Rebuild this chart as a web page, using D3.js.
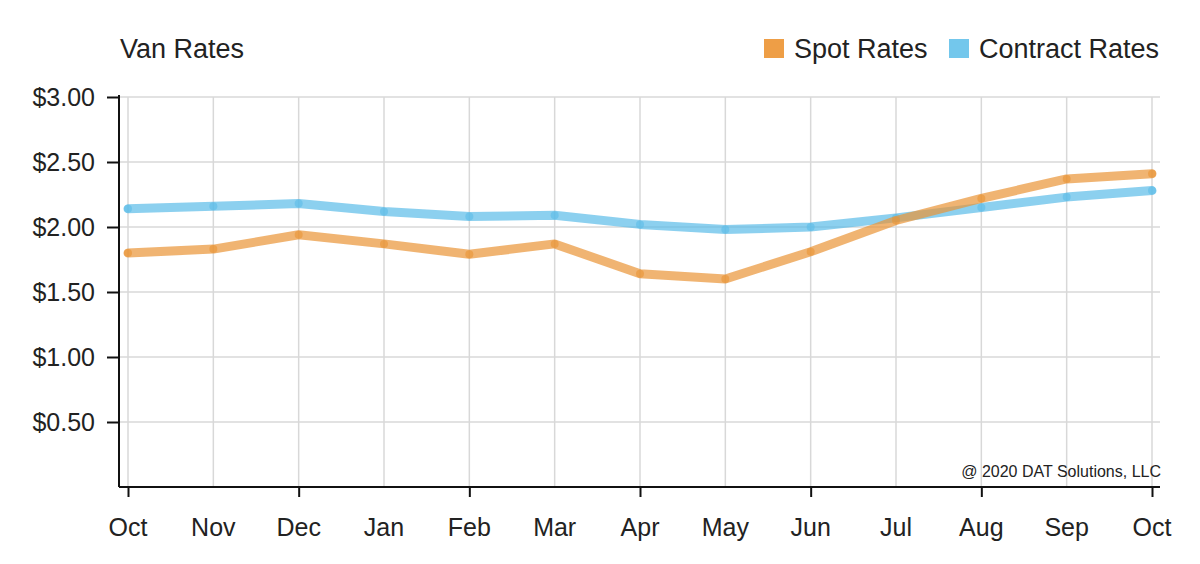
<!DOCTYPE html>
<html>
<head>
<meta charset="utf-8">
<script src="https://cdn.jsdelivr.net/npm/d3@7"></script>
<style>
  body { margin: 0; background: #fff; }
  svg text { font-family: "Liberation Sans", Arial, Helvetica, sans-serif; fill: #222; }
</style>
</head>
<body>
<div id="chart"></div>
<script>
var months = ["Oct", "Nov", "Dec", "Jan", "Feb", "Mar", "Apr", "May", "Jun", "Jul", "Aug", "Sep", "Oct"]
var spotRates = [1.80, 1.83, 1.94, 1.87, 1.79, 1.87, 1.64, 1.60, 1.81, 2.05, 2.22, 2.37, 2.41]
var contractRates = [2.14, 2.16, 2.18, 2.12, 2.08, 2.09, 2.02, 1.98, 2.00, 2.07, 2.15, 2.23, 2.28]
var yTicks = [0.5, 1.0, 1.5, 2.0, 2.5, 3.0]

var width = 1200
var height = 564
var plotLeft = 119, plotRight = 1160, plotTop = 97, plotBottom = 487

var orange = "#EA9436"
var blue = "#5BBCE8"

var svg = d3.select("#chart").append("svg")
    .attr("width", width)
    .attr("height", height)

// x uses index so the two "Oct" labels stay separate
var x = d3.scaleLinear()
    .domain([0, months.length - 1])
    .range([128, 1152])

var y = d3.scaleLinear()
    .domain([0, 3])
    .range([plotBottom, plotTop])

// grid
svg.append("g")
    .selectAll("line")
    .data(months.map((m, i) => i))
    .enter()
    .append("line")
    .attr("x1", d => x(d)).attr("x2", d => x(d))
    .attr("y1", plotTop).attr("y2", plotBottom)
    .attr("stroke", "#d8d8d8")
    .attr("stroke-width", 1.5)

svg.append("g")
    .selectAll("line")
    .data(yTicks)
    .enter()
    .append("line")
    .attr("x1", plotLeft).attr("x2", plotRight)
    .attr("y1", d => y(d)).attr("y2", d => y(d))
    .attr("stroke", "#d8d8d8")
    .attr("stroke-width", 1.5)

// y axis
var yAxis = svg.append("g")
    .attr("transform", "translate(" + plotLeft + ",0)")
    .call(d3.axisLeft(y).tickValues(yTicks).tickSize(12).tickPadding(12)
        .tickFormat(d => "$" + d.toFixed(2)))
yAxis.select(".domain").attr("d", "M0," + (plotTop - 2) + "V" + plotBottom)
yAxis.selectAll("line, path").attr("stroke", "#111").attr("stroke-width", 2)
yAxis.selectAll("text").attr("font-size", 25).attr("fill", "#222")
    .style("font-family", '"Liberation Sans", Arial, sans-serif')

// x axis
var xAxis = svg.append("g")
    .attr("transform", "translate(0," + plotBottom + ")")
    .call(d3.axisBottom(x).tickValues(months.map((m, i) => i).filter(i => i % 2 == 0))
        .tickSize(10).tickFormat(""))
xAxis.select(".domain").attr("d", "M" + plotLeft + ",0H" + plotRight)
xAxis.selectAll("line, path").attr("stroke", "#111").attr("stroke-width", 2)

svg.append("g")
    .selectAll("text")
    .data(months)
    .enter()
    .append("text")
    .attr("x", (d, i) => x(i))
    .attr("y", 536)
    .attr("text-anchor", "middle")
    .attr("font-size", 25)
    .text(d => d)

// lines
var line = d3.line()
    .x((d, i) => x(i))
    .y(d => y(d))

var series = [
    { name: "Contract Rates", values: contractRates, color: blue },
    { name: "Spot Rates", values: spotRates, color: orange }
]

series.forEach(function (s) {
    svg.append("path")
        .datum(s.values)
        .attr("d", line)
        .attr("fill", "none")
        .attr("stroke", s.color)
        .attr("stroke-width", 9)
        .attr("stroke-linecap", "round")
        .attr("stroke-linejoin", "round")
        .attr("stroke-opacity", 0.7)

    svg.append("g")
        .selectAll("circle")
        .data(s.values)
        .enter()
        .append("circle")
        .attr("cx", (d, i) => x(i))
        .attr("cy", d => y(d))
        .attr("r", 4)
        .attr("fill", s.color)
        .attr("fill-opacity", 0.6)
})

// title
svg.append("text")
    .attr("x", 120)
    .attr("y", 58)
    .attr("font-size", 27)
    .text("Van Rates")

// legend
var legend = [
    { name: "Spot Rates", color: "#EE9E46", x: 764 },
    { name: "Contract Rates", color: "#73C7EC", x: 949 }
]
legend.forEach(function (l) {
    svg.append("rect")
        .attr("x", l.x).attr("y", 39)
        .attr("width", 20).attr("height", 19)
        .attr("fill", l.color)
    svg.append("text")
        .attr("x", l.x + 30)
        .attr("y", 58)
        .attr("font-size", 27)
        .text(l.name)
})

// copyright
svg.append("text")
    .attr("x", 1161)
    .attr("y", 477)
    .attr("text-anchor", "end")
    .attr("font-size", 16)
    .text("@ 2020 DAT Solutions, LLC")
</script>
</body>
</html>
